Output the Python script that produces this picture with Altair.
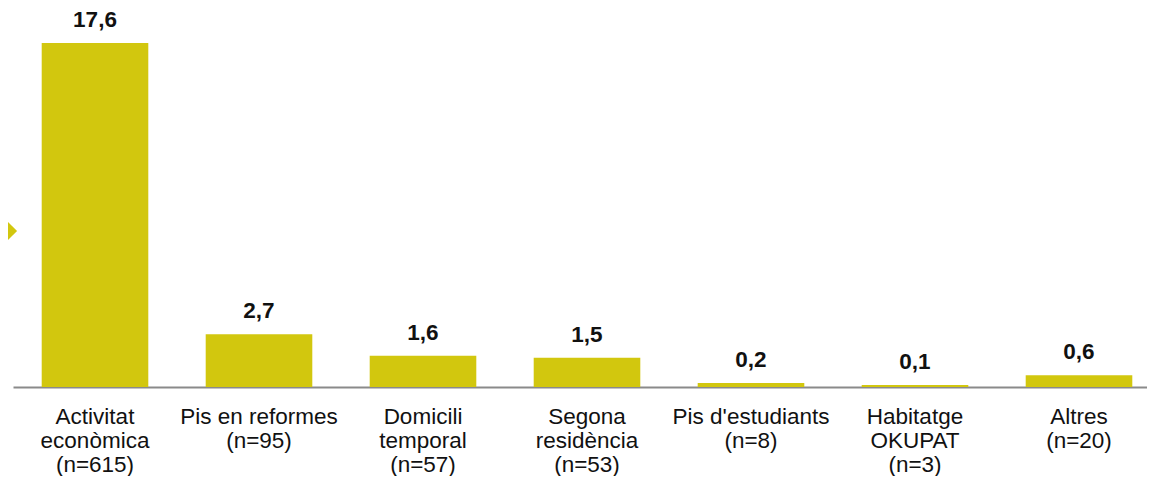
import altair as alt
import pandas as pd

categories = [
    "Activitat\neconòmica\n(n=615)",
    "Pis en reformes\n(n=95)",
    "Domicili\ntemporal\n(n=57)",
    "Segona\nresidència\n(n=53)",
    "Pis d'estudiants\n(n=8)",
    "Habitatge\nOKUPAT\n(n=3)",
    "Altres\n(n=20)",
]
values = [17.6, 2.7, 1.6, 1.5, 0.2, 0.1, 0.6]

df = pd.DataFrame({"cat": categories, "value": values})

BAR = "#D2C70E"

x = alt.X(
    "cat:N",
    sort=categories,
    title=None,
    scale=alt.Scale(paddingInner=0.35, paddingOuter=0.175, range=[0, 1148]),
    axis=alt.Axis(
        labelExpr="split(datum.label, '\\n')",
        labelAngle=0,
        labelFont="Liberation Sans",
        labelFontSize=22.5,
        labelLineHeight=24,
        labelColor="#111111",
        labelPadding=18,
        labelLimit=300,
        ticks=False,
        domainColor="#8a8a8a",
        domainWidth=2,
        grid=False,
    ),
)
y = alt.Y(
    "value:Q",
    title=None,
    scale=alt.Scale(domain=[0, 19.39], nice=False),
    axis=None,
)

base = alt.Chart(df)

bars = base.mark_bar(color=BAR).encode(x=x, y=y)

labels = base.transform_calculate(
    lbl="replace(format(datum.value, '.1f'), '.', ',')"
).mark_text(
    font="Liberation Sans",
    fontSize=22.5,
    fontWeight="bold",
    color="#111111",
    baseline="bottom",
    dy=-11,
).encode(x=x, y=y, text="lbl:N")

chevron = alt.Chart(pd.DataFrame({"k": [0]})).mark_point(
    shape="M 0 -1 L 1 0 L 0 1 Z", filled=True, color=BAR, size=330, opacity=1, strokeWidth=0
).encode(x=alt.value(-5), y=alt.value(223))

chart = (
    alt.layer(bars, labels, chevron)
    .properties(
        width=1134,
        height=379,
        padding={"left": 5, "top": 0, "right": 0, "bottom": 89},
        autosize=alt.AutoSizeParams(type="none"),
        view=alt.ViewBackground(stroke="transparent", strokeWidth=0),
    )
    .configure_view(strokeWidth=0, stroke="transparent")
)

chart.save("out.html", embed_options={"renderer": "svg", "actions": False})
